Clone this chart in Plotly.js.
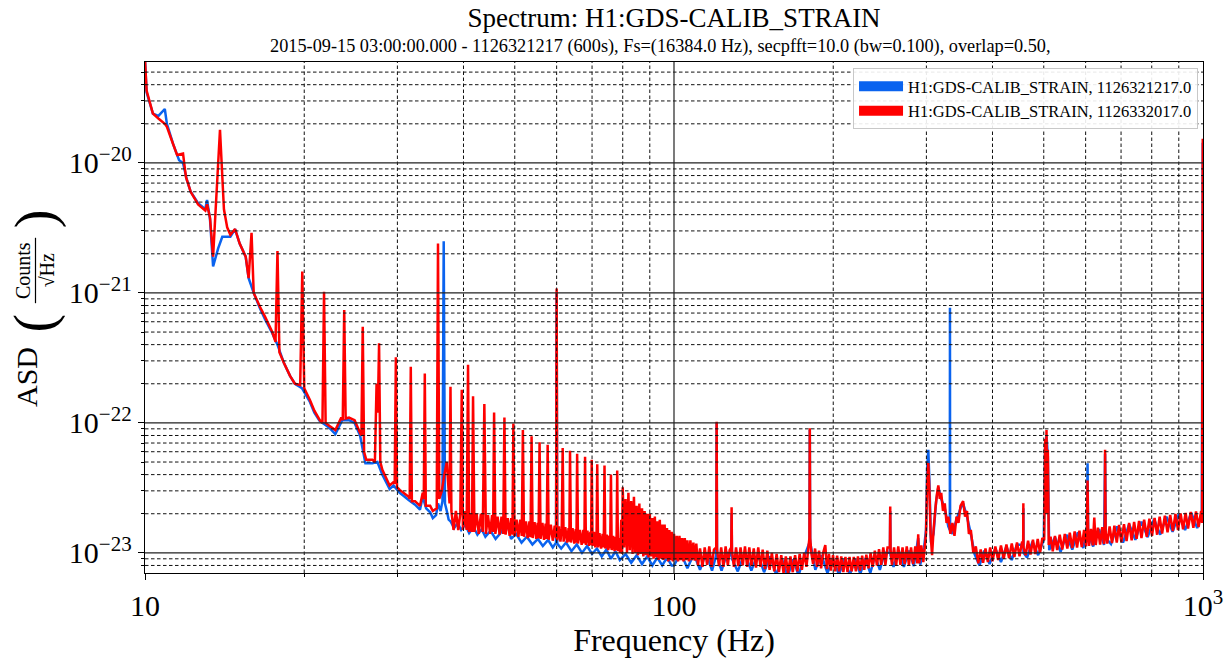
<!DOCTYPE html>
<html>
<head>
<meta charset="utf-8">
<script src="https://cdn.plot.ly/plotly-3.0.1.min.js"></script>
<style>
  html, body { margin: 0; padding: 0; background: #fff; }
  #chart { width: 1228px; height: 663px; }
</style>
</head>
<body>
<div id="chart"></div>
<script>
// Amplitude spectral density of H1:GDS-CALIB_STRAIN, two 600 s stretches.
// Each entry is [frequency in Hz, ASD in strain/sqrt(Hz)].

const seriesNames = [
  'H1:GDS-CALIB_STRAIN, 1126321217.0',
  'H1:GDS-CALIB_STRAIN, 1126332017.0'
];
const seriesColors = ['#0a63ef', '#ff0000'];

// ---- first stretch (blue) ----
const blueLow = [
  [10.0, 6.2e-20], [10.07, 3.5e-20], [10.35, 2.4e-20], [10.6, 2.3e-20], [10.9, 2.6e-20],
  [11.0, 2.0e-20], [11.3, 1.4e-20], [11.6, 1.05e-20], [11.8, 1.0e-20], [12.0, 7.4e-21],
  [12.2, 6.0e-21], [12.6, 4.9e-21], [13.0, 4.4e-21], [13.1, 5.2e-21], [13.27, 3.7e-21],
  [13.45, 1.6e-21], [13.75, 2.2e-21], [14.0, 2.7e-21], [14.5, 2.7e-21], [14.8, 3.1e-21],
  [15.1, 2.4e-21], [15.5, 1.9e-21], [15.7, 1.3e-21], [16.05, 1.0e-21], [16.5, 7.6e-22],
  [16.85, 6.3e-22], [17.4, 4.9e-22], [17.8, 4.0e-22], [18.3, 2.9e-22], [18.8, 2.3e-22],
  [19.2, 2.0e-22], [19.8, 1.85e-22], [20.5, 1.45e-22], [20.9, 1.2e-22], [21.4, 1.03e-22],
  [21.8, 9.8e-23], [22.3, 9.2e-23], [22.9, 8.2e-23], [23.6, 1.05e-22], [24.3, 1.05e-22],
  [24.9, 1.0e-22], [25.5, 8.0e-23], [26.1, 4.9e-23], [26.9, 4.9e-23], [27.5, 5.0e-23],
  [28.1, 4.0e-23], [29.0, 3.1e-23], [29.5, 3.3e-23], [30.3, 2.9e-23], [30.8, 2.75e-23],
  [31.5, 2.55e-23], [32.4, 2.35e-23], [33.1, 2.15e-23], [33.5, 2.7e-23], [34.0, 2.2e-23],
  [34.6, 2.05e-23], [35.0, 1.85e-23], [35.5, 1.95e-23], [35.8, 2.4e-23], [36.2, 2.1e-23],
  [36.5, 2.5e-23], [36.7, 2.5e-21], [36.9, 2.4e-23], [37.2, 2.1e-23], [37.5, 1.8e-23]
];
const blueMid = [
  [37.8, 1.75e-23], [38.4, 1.55e-23], [39.0, 1.7e-23], [39.6, 1.5e-23], [40.3, 1.65e-23],
  [41.0, 1.42e-23], [41.8, 1.58e-23], [42.5, 1.38e-23], [43.3, 1.52e-23], [44.0, 1.33e-23],
  [45.0, 1.48e-23], [46.0, 1.28e-23], [47.0, 1.42e-23], [48.3, 1.75e-23], [49.2, 1.28e-23],
  [50.3, 1.4e-23], [51.5, 1.2e-23], [52.7, 1.33e-23], [54.0, 1.16e-23], [55.3, 1.28e-23],
  [56.5, 1.13e-23], [57.8, 1.26e-23], [59.0, 1.1e-23], [59.85, 1.2e-23], [60.0, 1.0e-21],
  [60.15, 1.18e-23], [61.2, 1.08e-23], [62.5, 1.2e-23], [64.0, 1.03e-23], [65.5, 1.16e-23],
  [67.0, 1.0e-23], [68.5, 1.13e-23], [70.0, 9.8e-24], [71.5, 1.08e-23], [73.0, 9.4e-24],
  [74.5, 1.06e-23], [76.0, 9.0e-24], [77.5, 1.03e-23], [79.0, 8.8e-24], [81.0, 9.8e-24],
  [83.0, 8.4e-24], [85.0, 9.6e-24], [87.0, 8.2e-24], [89.0, 9.4e-24], [91.0, 8.0e-24],
  [93.0, 9.2e-24], [95.0, 8.0e-24], [97.0, 9.2e-24], [99.0, 8.0e-24]
];
const blueHigh = [
  [100, 8.0e-24], [103, 1.0e-23], [106, 7.6e-24], [109, 9.8e-24], [112, 7.4e-24],
  [115, 1.0e-23], [118, 7.3e-24], [120.2, 9.6e-24], [120.4, 1.0e-22], [120.6, 9.4e-24],
  [123, 7.3e-24], [126, 1.0e-23], [128.3, 9.5e-24], [128.5, 2.0e-23], [128.7, 9.0e-24],
  [132, 7.2e-24], [136, 1.0e-23], [140, 7.3e-24], [144, 9.8e-24], [148, 7.1e-24],
  [152, 9.4e-24], [156, 6.8e-24], [160, 9.0e-24], [164, 6.6e-24], [168, 8.9e-24],
  [172, 6.7e-24], [176, 9.2e-24], [180.3, 1.2e-23], [180.6, 8.8e-23], [180.9, 1.2e-23],
  [185, 7.4e-24], [190, 9.6e-24], [195, 7.0e-24], [200, 9.0e-24], [205, 6.8e-24],
  [210, 8.9e-24], [215, 6.8e-24], [220, 8.9e-24], [225, 6.9e-24], [230, 9.1e-24],
  [235, 7.0e-24], [240, 9.5e-24], [245, 7.4e-24], [250, 1.0e-23], [256, 1.0e-23],
  [256.3, 2.1e-23], [256.6, 9.6e-24], [260, 7.8e-24], [266, 1.04e-23], [272, 7.8e-24],
  [278, 1.04e-23], [284, 7.9e-24], [289.5, 1.3e-23], [292, 8.1e-24], [297, 1.1e-23],
  [299.5, 1.5e-23], [301, 4.5e-23], [302.5, 6.2e-23], [304, 3.5e-23], [306, 1.2e-23],
  [309.5, 1.4e-23], [313, 2.5e-23], [316, 3.2e-23], [320, 2.6e-23], [325, 2.2e-23],
  [330, 1.6e-23], [332.2, 1.5e-23], [332.4, 7.7e-22], [332.6, 1.5e-23], [336, 1.4e-23],
  [342, 1.8e-23], [348, 2.2e-23], [352, 2.4e-23], [358, 1.9e-23], [364, 1.4e-23],
  [370, 9.8e-24], [378, 8.0e-24], [386, 1.04e-23], [395, 8.2e-24], [405, 1.08e-23],
  [415, 8.5e-24], [425, 1.12e-23], [435, 8.8e-24], [445, 1.16e-23], [457.2, 1.15e-23],
  [457.5, 2.2e-23], [457.8, 1.0e-23], [465, 9.2e-24], [476, 1.22e-23], [488, 9.6e-24],
  [500, 1.26e-23], [503, 6.5e-23], [506, 8.0e-23], [509, 5.5e-23], [512, 1.05e-23],
  [525, 1.32e-23], [538, 1.02e-23], [552, 1.38e-23], [566, 1.06e-23], [580, 1.44e-23],
  [594, 1.09e-23], [603.5, 1.5e-23], [605, 4.9e-23], [606.5, 1.4e-23], [620, 1.12e-23],
  [636, 1.52e-23], [650, 1.15e-23], [653, 5.8e-23], [655, 1.3e-23], [670, 1.17e-23],
  [688, 1.6e-23], [706, 1.2e-23], [725, 1.66e-23], [745, 1.26e-23], [765, 1.74e-23],
  [786, 1.32e-23], [808, 1.82e-23], [830, 1.38e-23], [853, 1.9e-23], [876, 1.45e-23],
  [900, 1.98e-23], [925, 1.5e-23], [950, 2.04e-23], [975, 1.55e-23], [995, 2.05e-23],
  [999, 1.4e-20], [1000, 1.4e-20]
];

// ---- second stretch (red), with the ~2 Hz comb ----
const redLow = [
  [10.0, 6.2e-20], [10.07, 3.6e-20], [10.35, 2.4e-20], [10.6, 2.2e-20], [10.9, 2.0e-20],
  [11.0, 1.9e-20], [11.3, 1.4e-20], [11.5, 1.15e-20], [11.8, 1.18e-20], [11.95, 7.8e-21],
  [12.2, 6.0e-21], [12.6, 4.8e-21], [13.0, 4.3e-21], [13.1, 4.8e-21], [13.27, 3.8e-21],
  [13.45, 1.9e-21], [13.86, 1.8e-20], [14.1, 4.4e-21], [14.3, 3.2e-21], [14.5, 2.8e-21],
  [14.8, 3.1e-21], [15.1, 2.4e-21], [15.5, 1.9e-21], [15.7, 1.3e-21], [15.9, 2.9e-21],
  [16.05, 1.0e-21], [16.5, 7.8e-22], [16.85, 6.6e-22], [17.4, 5.0e-22], [17.65, 4.2e-22],
  [17.8, 2.1e-21], [17.95, 3.5e-22], [18.3, 2.9e-22], [18.8, 2.3e-22], [19.2, 2.0e-22],
  [19.65, 1.95e-22], [19.83, 1.46e-21], [20.0, 1.85e-22], [20.5, 1.5e-22], [20.9, 1.24e-22],
  [21.4, 1.05e-22], [21.65, 1.0e-22], [21.8, 1.02e-21], [21.95, 1.0e-22], [22.3, 9.5e-23],
  [22.9, 8.8e-23], [23.5, 1.1e-22], [23.65, 1.05e-22], [23.8, 7.4e-22], [23.95, 1.08e-22],
  [24.3, 1.1e-22], [24.9, 1.05e-22], [25.5, 8.4e-23], [25.65, 8.0e-23], [25.8, 5.5e-22],
  [25.95, 6.0e-23], [26.2, 5.2e-23], [26.9, 5.2e-23], [27.2, 5.0e-23], [27.4, 2.0e-22],
  [27.55, 1.2e-22], [27.7, 4.1e-22], [27.85, 5.0e-23], [28.1, 4.35e-23], [29.0, 3.3e-23],
  [29.5, 3.5e-23], [29.65, 3.4e-23], [29.8, 3.2e-22], [29.95, 3.2e-23], [30.3, 3.05e-23],
  [30.8, 2.9e-23], [31.5, 2.7e-23], [31.65, 2.6e-23], [31.8, 2.7e-22], [31.95, 2.5e-23],
  [32.4, 2.5e-23], [33.1, 2.3e-23], [33.5, 2.9e-23], [33.65, 2.6e-23], [33.8, 2.4e-22],
  [33.95, 2.3e-23], [34.6, 2.3e-23], [35.0, 2.1e-23], [35.6, 2.2e-23], [35.8, 2.4e-21],
  [36.0, 2.6e-23], [36.4, 3.0e-23], [36.8, 4.0e-23], [37.2, 5.0e-23], [37.5, 3.0e-23],
  [37.65, 2.4e-23], [37.8, 1.9e-22]
];
const redComb = [
  [37.95, 2.1e-23], [38.3, 1.5e-23], [38.7, 2.1e-23], [39.1, 1.5e-23], [39.45, 2.0e-23],
  [39.7, 1.8e-22], [39.9, 1.5e-23], [40.25, 2.1e-23], [40.55, 1.5e-23], [40.8, 2.8e-22],
  [41.0, 1.45e-23], [41.3, 2.0e-23], [41.5, 1.45e-23], [41.7, 1.6e-22], [41.95, 1.45e-23],
  [42.35, 2.0e-23], [42.75, 1.4e-23], [43.15, 2.0e-23], [43.5, 1.45e-23], [43.8, 1.4e-22],
  [44.1, 1.4e-23], [44.5, 1.95e-23], [44.9, 1.4e-23], [45.3, 1.95e-23], [45.5, 1.45e-23],
  [45.7, 1.2e-22], [45.95, 1.4e-23], [46.4, 1.9e-23], [46.8, 1.38e-23], [47.2, 1.9e-23],
  [47.55, 1.4e-23], [47.8, 1.1e-22], [48.05, 1.38e-23], [48.5, 1.85e-23], [48.9, 1.35e-23],
  [49.25, 1.85e-23], [49.5, 1.38e-23], [49.7, 9.9e-23], [49.95, 1.35e-23], [50.4, 1.8e-23],
  [50.8, 1.33e-23], [51.2, 1.8e-23], [51.55, 1.35e-23], [51.8, 8.8e-23], [52.05, 1.33e-23],
  [52.5, 1.75e-23], [52.9, 1.3e-23], [53.3, 1.75e-23], [53.55, 1.32e-23], [53.8, 7.9e-23],
  [54.05, 1.3e-23], [54.5, 1.72e-23], [54.9, 1.28e-23], [55.25, 1.7e-23], [55.45, 1.3e-23],
  [55.7, 7.1e-23], [55.95, 1.28e-23], [56.4, 1.7e-23], [56.8, 1.26e-23], [57.2, 1.68e-23],
  [57.45, 1.28e-23], [57.7, 6.8e-23], [57.95, 1.26e-23], [58.5, 1.65e-23], [59.0, 1.24e-23],
  [59.5, 1.62e-23], [59.85, 1.3e-23], [60.0, 1.08e-21], [60.15, 1.25e-23], [60.6, 1.6e-23],
  [61.0, 1.22e-23], [61.35, 1.55e-23], [61.6, 6.4e-23], [61.85, 1.22e-23], [62.3, 1.58e-23],
  [62.8, 1.2e-23], [63.2, 1.55e-23], [63.4, 1.22e-23], [63.6, 6.1e-23], [63.85, 1.2e-23],
  [64.3, 1.55e-23], [64.8, 1.18e-23], [65.2, 1.52e-23], [65.4, 1.2e-23], [65.6, 5.8e-23],
  [65.85, 1.18e-23], [66.4, 1.5e-23], [66.9, 1.15e-23], [67.4, 1.5e-23], [67.7, 1.18e-23],
  [67.9, 5.5e-23], [68.15, 1.15e-23], [68.6, 1.48e-23], [69.1, 1.13e-23], [69.5, 1.45e-23],
  [69.7, 1.15e-23], [69.9, 5.2e-23], [70.15, 1.13e-23], [70.6, 1.45e-23], [71.0, 1.1e-23],
  [71.4, 1.42e-23], [71.6, 4.8e-23], [71.85, 1.1e-23], [72.3, 1.42e-23], [72.8, 1.08e-23],
  [73.3, 1.4e-23], [73.65, 1.1e-23], [73.9, 4.7e-23], [74.15, 1.08e-23], [74.6, 1.38e-23],
  [75.1, 1.05e-23], [75.5, 1.36e-23], [75.75, 1.08e-23], [76.0, 4.0e-23], [76.25, 1.05e-23],
  [76.7, 1.35e-23], [77.2, 1.03e-23], [77.6, 1.33e-23], [77.85, 1.05e-23], [78.1, 4.3e-23],
  [78.35, 1.03e-23], [78.7, 1.3e-23], [79.1, 1.0e-23], [79.5, 1.8e-23], [79.75, 9.8e-24],
  [80.0, 3.2e-23], [80.5, 1.1e-23], [81.0, 2.6e-23], [81.5, 1.0e-23], [82.0, 2.9e-23],
  [82.5, 1.05e-23], [83.0, 2.5e-23], [83.5, 9.8e-24], [84.0, 2.7e-23], [84.5, 1.0e-23],
  [85.0, 2.3e-23], [85.5, 9.6e-24], [86.0, 2.4e-23], [86.5, 9.8e-24], [87.0, 2.2e-23],
  [87.5, 9.4e-24], [88.0, 2.1e-23], [88.5, 9.6e-24], [89.0, 2.0e-23], [89.5, 9.2e-24],
  [90.0, 2.0e-23], [90.5, 9.4e-24], [91.0, 1.85e-23], [91.5, 9.0e-24], [92.0, 1.9e-23],
  [92.5, 9.2e-24], [93.0, 1.75e-23], [93.5, 8.8e-24], [94.0, 1.8e-23], [94.5, 9.0e-24],
  [95.0, 1.65e-23], [95.5, 8.8e-24], [96.0, 1.65e-23], [96.5, 9.0e-24], [97.0, 1.55e-23],
  [97.5, 8.6e-24], [98.0, 1.5e-23], [98.5, 8.8e-24], [99.0, 1.45e-23], [99.5, 8.6e-24],
  [100.0, 1.4e-23], [100.6, 8.8e-24], [101.2, 1.35e-23], [101.8, 8.6e-24], [102.4, 1.35e-23],
  [103.0, 8.8e-24], [103.6, 1.3e-23], [104.2, 8.6e-24], [104.8, 1.3e-23], [105.4, 8.8e-24],
  [106.0, 1.25e-23], [106.7, 8.6e-24], [107.4, 1.25e-23], [108.1, 8.8e-24], [108.8, 1.2e-23],
  [109.5, 8.7e-24], [110.2, 1.18e-23]
];
const redHigh = [
  [111, 8.0e-24], [112, 1.08e-23], [113.2, 7.8e-24], [114.3, 1.1e-23], [115.5, 8.1e-24],
  [116.6, 1.12e-23], [117.8, 7.8e-24], [119, 1.06e-23], [120.2, 1.1e-23], [120.4, 1.02e-22],
  [120.6, 1.08e-23], [121.6, 7.9e-24], [122.8, 1.1e-23], [124, 7.8e-24], [125.2, 1.12e-23],
  [126.4, 8.0e-24], [127.4, 1.05e-23], [128.3, 1.1e-23], [128.5, 2.24e-23], [128.7, 1.05e-23],
  [129.8, 7.8e-24], [131, 1.1e-23], [132.3, 7.9e-24], [133.6, 1.1e-23], [134.9, 8.0e-24],
  [136.2, 1.12e-23], [137.5, 7.8e-24], [138.8, 1.1e-23], [140.1, 7.9e-24], [141.5, 1.08e-23],
  [142.9, 7.7e-24], [144.3, 1.1e-23], [145.7, 7.8e-24], [147.1, 1.06e-23], [148.6, 7.5e-24],
  [150.1, 1.04e-23], [151.6, 7.4e-24], [153.1, 1.0e-23], [154.7, 7.2e-24], [156.3, 9.8e-24],
  [157.9, 7.1e-24], [159.5, 9.6e-24], [161.1, 7.0e-24], [162.7, 9.4e-24], [164.3, 7.0e-24],
  [166, 9.4e-24], [167.7, 7.1e-24], [169.4, 9.6e-24], [171.1, 7.2e-24], [172.8, 9.8e-24],
  [174.5, 7.4e-24], [176.2, 1.0e-23], [178, 7.8e-24], [179.5, 1.1e-23], [180.3, 1.3e-23],
  [180.6, 9.1e-23], [180.9, 1.3e-23], [181.8, 1.0e-23], [183.2, 8.2e-24], [184.8, 1.08e-23],
  [186.4, 7.8e-24], [188, 1.04e-23], [189.7, 7.6e-24], [191.4, 1.0e-23], [193.2, 1.15e-23],
  [194.6, 7.5e-24], [196.3, 9.8e-24], [198, 7.3e-24], [199.8, 9.6e-24], [201.6, 7.2e-24],
  [203.4, 9.5e-24], [205.2, 7.2e-24], [207.1, 9.4e-24], [209, 7.1e-24], [210.9, 9.3e-24],
  [212.8, 7.1e-24], [214.7, 9.3e-24], [216.7, 7.2e-24], [218.7, 9.3e-24], [220.7, 7.2e-24],
  [222.7, 9.4e-24], [224.7, 7.3e-24], [226.8, 9.5e-24], [228.9, 7.4e-24], [231, 9.7e-24],
  [233.1, 7.6e-24], [235.3, 1.0e-23], [237.5, 7.8e-24], [239.7, 1.04e-23], [241.9, 8.0e-24],
  [244.1, 1.07e-23], [246.4, 8.1e-24], [248.7, 1.1e-23], [251, 8.1e-24], [253.3, 1.1e-23],
  [255.9, 1.1e-23], [256.3, 2.27e-23], [256.7, 1.05e-23], [258.2, 8.1e-24], [260.6, 1.1e-23],
  [263, 8.0e-24], [265.4, 1.12e-23], [267.9, 8.1e-24], [270.4, 1.1e-23], [272.9, 8.2e-24],
  [275.4, 1.12e-23], [278, 8.1e-24], [280.6, 1.1e-23], [283.2, 8.2e-24], [285.8, 1.12e-23],
  [288.4, 8.3e-24], [289.5, 1.39e-23], [290.8, 8.3e-24], [293.4, 1.14e-23], [296, 8.5e-24],
  [298.2, 1.15e-23], [299.5, 1.4e-23], [301, 3.5e-23], [302.5, 4.9e-23], [304, 3.0e-23],
  [305.5, 1.4e-23], [307.5, 9.6e-24], [309.5, 1.5e-23], [312, 2.2e-23], [314, 2.8e-23],
  [316, 3.3e-23], [318, 2.6e-23], [320, 2.9e-23], [322.5, 2.1e-23], [325, 2.4e-23],
  [327.5, 1.7e-23], [330, 1.9e-23], [333, 1.4e-23], [336, 1.7e-23], [339, 1.35e-23],
  [342, 1.9e-23], [345, 1.7e-23], [348, 2.3e-23], [352, 2.5e-23], [355, 1.9e-23],
  [358, 2.1e-23], [361, 1.4e-23], [364, 1.5e-23], [368, 1.0e-23], [372, 1.12e-23],
  [376, 8.3e-24], [380, 1.06e-23], [384, 8.4e-24], [388, 1.08e-23], [392, 8.5e-24],
  [396, 1.1e-23], [400, 8.6e-24], [405, 1.12e-23], [410, 8.8e-24], [415, 1.14e-23],
  [420, 9.0e-24], [425, 1.16e-23], [430, 9.1e-24], [435, 1.18e-23], [440, 9.3e-24],
  [445, 1.2e-23], [450, 9.4e-24], [455, 1.22e-23], [457.2, 1.2e-23], [457.5, 2.41e-23],
  [457.8, 1.1e-23], [462, 9.6e-24], [467, 1.24e-23], [472, 9.7e-24], [477, 1.26e-23],
  [482, 9.8e-24], [487, 1.28e-23], [492, 1.0e-23], [497, 1.3e-23], [501, 1.25e-23],
  [503, 7.5e-23], [504.5, 2.0e-23], [506, 8.8e-23], [507.5, 2.0e-23], [509, 6.2e-23],
  [511, 1.15e-23], [515, 1.33e-23], [520, 1.03e-23], [525, 1.35e-23], [530, 1.05e-23],
  [536, 1.38e-23], [542, 1.06e-23], [548, 1.4e-23], [554, 1.08e-23], [560, 1.43e-23],
  [566, 1.09e-23], [572, 1.46e-23], [578, 1.1e-23], [584, 1.48e-23], [590, 1.11e-23],
  [596, 1.5e-23], [601, 1.12e-23], [603.5, 1.55e-23], [605, 3.6e-23], [606.5, 1.5e-23],
  [609, 1.13e-23], [614, 1.53e-23], [619, 1.14e-23], [623, 1.87e-23], [627, 1.15e-23],
  [633, 1.56e-23], [639, 1.16e-23], [645, 1.58e-23], [650, 1.17e-23], [652, 1.55e-23],
  [653, 6.2e-23], [654.5, 1.45e-23], [659, 1.18e-23], [666, 1.6e-23], [673, 1.19e-23],
  [680, 1.62e-23], [687, 1.2e-23], [694, 1.64e-23], [701, 1.21e-23], [709, 1.66e-23],
  [717, 1.23e-23], [725, 1.7e-23], [733, 1.25e-23], [741, 1.73e-23], [749, 1.28e-23],
  [757, 1.76e-23], [765, 1.3e-23], [774, 1.8e-23], [783, 1.33e-23], [792, 1.83e-23],
  [801, 1.35e-23], [810, 1.86e-23], [819, 1.38e-23], [828, 1.9e-23], [837, 1.41e-23],
  [847, 1.93e-23], [857, 1.44e-23], [867, 1.96e-23], [877, 1.47e-23], [887, 1.99e-23],
  [897, 1.5e-23], [907, 2.01e-23], [917, 1.52e-23], [927, 2.03e-23], [937, 1.54e-23],
  [948, 2.06e-23], [959, 1.56e-23], [970, 2.08e-23], [981, 1.58e-23], [992, 2.1e-23],
  [996, 1.7e-23], [999, 1.5e-20], [1000, 1.5e-20]
];

// ---- axes ----
const xRangeHz = [10, 1000];
const yRangeAsd = [7.0e-24, 5.98e-20];
const xTickVals = [10, 100, 1000];
const xTickText = ['10', '100', '10<sup>3</sup>'];
const xMinorVals = [20, 30, 40, 50, 60, 70, 80, 90, 200, 300, 400, 500, 600, 700, 800, 900];
const yTickVals = [1e-23, 1e-22, 1e-21, 1e-20];
const yTickText = ['10<sup>−23</sup>', '10<sup>−22</sup>', '10<sup>−21</sup>', '10<sup>−20</sup>'];
const yMinorVals = [
  8e-24, 9e-24,
  2e-23, 3e-23, 4e-23, 5e-23, 6e-23, 7e-23, 8e-23, 9e-23,
  2e-22, 3e-22, 4e-22, 5e-22, 6e-22, 7e-22, 8e-22, 9e-22,
  2e-21, 3e-21, 4e-21, 5e-21, 6e-21, 7e-21, 8e-21, 9e-21,
  2e-20, 3e-20, 4e-20, 5e-20
];
const xMajorGrid = [100];
const yMajorGrid = yTickVals;

const titleText = 'Spectrum: H1:GDS-CALIB_STRAIN';
const subtitleText = '2015-09-15 03:00:00.000 - 1126321217 (600s), Fs=(16384.0 Hz), secpfft=10.0 (bw=0.100), overlap=0.50,';

const FONT = '"Liberation Serif", "DejaVu Serif", serif';

const blueSpectrum = [...blueLow, ...blueMid, ...blueHigh];
const redSpectrum = [...redLow, ...redComb, ...redHigh];

function lineTrace(points, color) {
  return {
    type: 'scatter', mode: 'lines',
    x: points.map(p => p[0]), y: points.map(p => p[1]),
    line: { color: color, width: 2.5, simplify: false },
    showlegend: false, hoverinfo: 'skip'
  };
}
function legendTrace(name, color) {
  return {
    type: 'scatter', mode: 'lines', x: [null], y: [null], name: name,
    line: { color: color, width: 10 }, hoverinfo: 'skip'
  };
}

const data = [
  lineTrace(blueSpectrum, seriesColors[0]),
  lineTrace(redSpectrum, seriesColors[1]),
  legendTrace(seriesNames[0], seriesColors[0]),
  legendTrace(seriesNames[1], seriesColors[1])
];

// grid drawn on top of the curves, matplotlib style
const shapes = [];
const minorLine = { color: '#111', width: 1, dash: '3.5px,2.5px' };
const majorLine = { color: '#222', width: 1.2 };
xMinorVals.forEach(v => shapes.push({ type: 'line', layer: 'above', xref: 'x', yref: 'paper', x0: v, x1: v, y0: 0, y1: 1, line: minorLine }));
yMinorVals.forEach(v => shapes.push({ type: 'line', layer: 'above', xref: 'paper', yref: 'y', x0: 0, x1: 1, y0: v, y1: v, line: minorLine }));
xMajorGrid.forEach(v => shapes.push({ type: 'line', layer: 'above', xref: 'x', yref: 'paper', x0: v, x1: v, y0: 0, y1: 1, line: majorLine }));
yMajorGrid.forEach(v => shapes.push({ type: 'line', layer: 'above', xref: 'paper', yref: 'y', x0: 0, x1: 1, y0: v, y1: v, line: majorLine }));
// fraction bar of the y-axis unit
shapes.push({ type: 'line', xref: 'paper', yref: 'paper', x0: -0.1035, x1: -0.1035, y0: 0.528, y1: 0.656, line: { color: '#000', width: 1.2 } });

const yLabelPart = (text, x, y, size) => ({
  text: text, textangle: -90, xref: 'paper', yref: 'paper', x: x, y: y,
  xanchor: 'center', yanchor: 'middle', showarrow: false, font: { size: size, family: FONT, color: '#000' }
});

const annotations = [
  { text: subtitleText, xref: 'paper', yref: 'paper', x: 0.4868, y: 1.0313, xanchor: 'center', yanchor: 'middle',
    showarrow: false, font: { size: 18.3, family: FONT, color: '#000' } },
  yLabelPart('ASD', -0.1115, 0.3836, 30),
  yLabelPart('(', -0.104, 0.49, 56),
  yLabelPart('Counts', -0.1148, 0.592, 20),
  yLabelPart('√Hz', -0.0918, 0.592, 20),
  yLabelPart(')', -0.104, 0.694, 56)
];

const axisCommon = {
  type: 'log', tickmode: 'array', ticks: 'outside', ticklen: 6, tickwidth: 1, tickcolor: '#000',
  showgrid: false, zeroline: false, showline: true, mirror: true, linecolor: '#000', linewidth: 1.3,
  tickfont: { size: 30, family: FONT, color: '#000' }
};

const layout = {
  width: 1228, height: 663,
  margin: { l: 145, r: 25, t: 62, b: 90 },
  paper_bgcolor: '#fff', plot_bgcolor: '#fff',
  font: { family: FONT, color: '#000' },
  title: { text: titleText, font: { size: 27, family: FONT, color: '#000' },
           xref: 'paper', x: 0.5, xanchor: 'center', yref: 'container', y: 1 - 18 / 663, yanchor: 'middle' },
  xaxis: Object.assign({}, axisCommon, {
    range: xRangeHz.map(Math.log10), tickvals: xTickVals, ticktext: xTickText,
    minor: { tickmode: 'array', tickvals: xMinorVals, ticks: 'outside', ticklen: 3, tickcolor: '#000', showgrid: false },
    title: { text: 'Frequency (Hz)', font: { size: 32, family: FONT, color: '#000' }, standoff: 6 }
  }),
  yaxis: Object.assign({}, axisCommon, {
    range: yRangeAsd.map(Math.log10), tickvals: yTickVals, ticktext: yTickText,
    minor: { tickmode: 'array', tickvals: yMinorVals, ticks: 'outside', ticklen: 3, tickcolor: '#000', showgrid: false }
  }),
  legend: { x: 0.9953, y: 0.988, xanchor: 'right', yanchor: 'top', bgcolor: 'rgba(255,255,255,0.9)',
            bordercolor: '#c8c8c8', borderwidth: 1, font: { size: 16.5, family: FONT, color: '#000' },
            itemwidth: 44, tracegroupgap: 0 },
  shapes: shapes,
  annotations: annotations
};

Plotly.newPlot('chart', data, layout, { displayModeBar: false, staticPlot: true });
</script>
</body>
</html>
